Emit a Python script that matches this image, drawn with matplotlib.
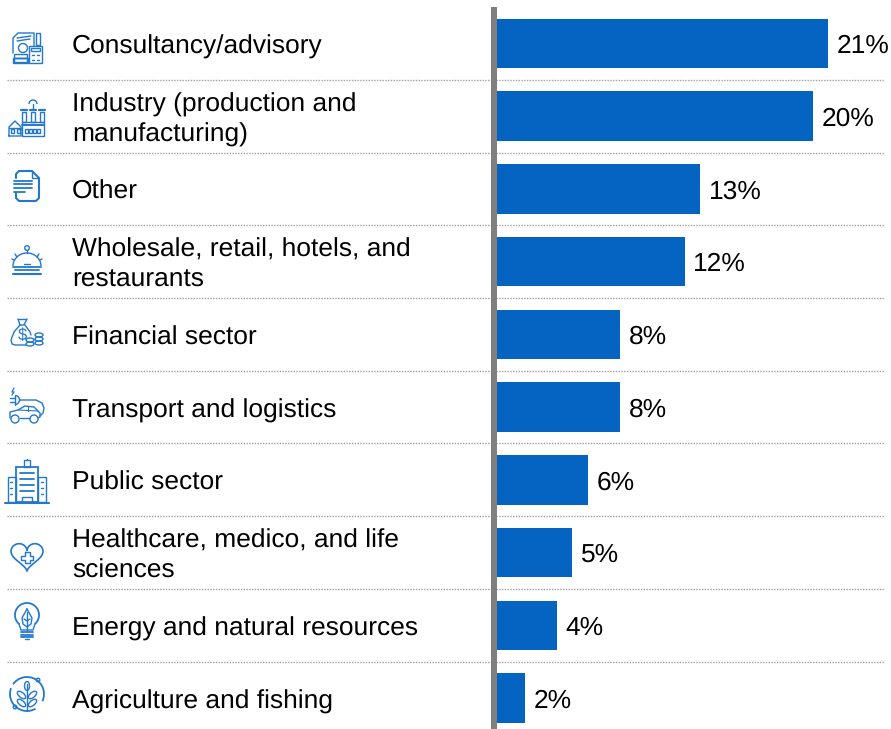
import numpy as np
import matplotlib
matplotlib.use("Agg")
import matplotlib.pyplot as plt
from matplotlib.patches import Circle, Rectangle, Arc, Ellipse

plt.rcParams["font.family"] = ["Liberation Sans", "DejaVu Sans"]
plt.rcParams["text.hinting"] = "no_hinting"
plt.rcParams["text.hinting_factor"] = 8

categories = [
    "Consultancy/advisory",
    "Industry (production and\nmanufacturing)",
    "Other",
    "Wholesale, retail, hotels, and\nrestaurants",
    "Financial sector",
    "Transport and logistics",
    "Public sector",
    "Healthcare, medico, and life\nsciences",
    "Energy and natural resources",
    "Agriculture and fishing",
]
values = [21.0, 20.0, 12.9, 11.9, 7.8, 7.8, 5.8, 4.8, 3.8, 1.8]
value_labels = ["21%", "20%", "13%", "12%", "8%", "8%", "6%", "5%", "4%", "2%"]

W, H = 891, 729
BLUE = "#0563c1"
ICON = "#2378cc"
GREY = "#7f7f7f"
TXT = "#000000"
X0 = 496.5
PX_PER_PCT = 15.8
ROW0 = 43.5
ROW_H = 72.72
FS = 19.0

fig = plt.figure(figsize=(W / 100, H / 100), dpi=100)

# bars
ax = fig.add_axes([X0 / W, 0, 1 - X0 / W, 1])
ax.set_xlim(0, (W - X0) / PX_PER_PCT)
ax.set_ylim((H - ROW0) / ROW_H, -ROW0 / ROW_H)
ax.axis("off")
ypos = np.arange(len(values))
ax.barh(ypos, values, height=0.68, color=BLUE, edgecolor="none")
for y, v, lab in zip(ypos, values, value_labels):
    ax.text(v + 0.55, y + 0.04, lab, va="center", ha="left", fontsize=FS, color=TXT)

# pixel overlay for labels, rules and icons
px = fig.add_axes([0, 0, 1, 1], facecolor="none")
px.set_xlim(0, W)
px.set_ylim(H, 0)
px.axis("off")

for i, c in enumerate(categories):
    px.text(72, ROW0 + ROW_H * i + 3.5, c, va="center", ha="left", fontsize=FS,
            color=TXT, linespacing=1.33)
    if i < len(categories) - 1:
        px.plot([7, 884], [ROW0 + ROW_H * (i + 0.5)] * 2, color="#a0a0a0", lw=1,
                dashes=(1, 1), zorder=1)
px.add_patch(Rectangle((491, 7), 5.5, H - 7, fc=GREY, ec="none", zorder=3))


def seg(*pts, lw=1.0):
    xs, ys = zip(*pts)
    px.plot(xs, ys, color=ICON, lw=lw, solid_capstyle="round", solid_joinstyle="round")


def box(x, y, w, h, lw=1.0):
    px.add_patch(Rectangle((x, y), w, h, fc="none", ec=ICON, lw=lw))


def ring(x, y, r, lw=1.0):
    px.add_patch(Circle((x, y), r, fc="none", ec=ICON, lw=lw))


def oval(x, y, w, h, lw=1.0, angle=0):
    px.add_patch(Ellipse((x, y), w, h, angle=angle, fc="none", ec=ICON, lw=lw))


def arc(x, y, w, h, a, b, lw=1.0):
    px.add_patch(Arc((x, y), w, h, theta1=a, theta2=b, ec=ICON, lw=lw))


# consultancy
seg((13, 53), (13, 38), (18, 33), (34, 33), (34, 46))
seg((17, 38), (31, 36))
seg((17, 41), (30, 39))
ring(23, 48, 4.5)
for yy in (54, 58):
    box(14, yy, 13, 4)
box(12.5, 58, 15, 5)
box(29, 46, 13, 17)
box(31, 48, 9, 3)
for a in (33, 38):
    for b in (55, 60):
        seg((a - 1, b), (a + 1, b))
box(36, 33, 3.5, 12)

# factory
box(21.5, 122, 22.5, 14)
seg((9, 136), (9, 127), (15, 121), (21, 127), (21, 136), (9, 136))
seg((9, 128), (21, 128))
seg((22, 125), (44, 125), lw=1.4)
for a in (12, 18, 26, 30, 34, 38):
    box(a - 1, 129, 2.5, 3.5)
for a in (24, 33, 42):
    box(a - 2, 112, 4, 10)
    seg((a - 3, 110), (a + 3, 110), lw=1.6)
arc(33, 104, 8, 8, 180, 360)
seg((33, 104), (33, 110))

# other (document)
seg((16, 178), (16, 174), (19, 171), (32, 171), (39, 178), (39, 198), (36, 201), (19, 201),
    (16, 198), (16, 193), lw=1.5)
seg((32, 171), (32, 178), (39, 178), lw=1.0)
for yy, xe in zip((181, 184, 188, 192), (32, 32, 32, 25)):
    seg((14, yy), (xe, yy), lw=1.3)

# bell
arc(27, 266, 28, 26, 180, 360)
ring(27, 248, 2.3)
seg((27, 250), (27, 253))
seg((13, 267), (41, 267), lw=1.3)
seg((15, 270), (39, 270), lw=1.3)
seg((13, 274), (41, 274), lw=1.5)
seg((24, 264), (30, 264))
seg((15, 254), (17, 257))
seg((39, 254), (37, 257))
seg((12, 259), (14, 260))
seg((42, 259), (40, 260))

# money bag
seg((18, 319), (26, 319))
seg((18, 319), (20, 325), (24, 325), (27, 319))
seg((20, 325), (14, 332), (11, 340), (12, 344), (15, 345), (26, 345))
seg((25, 325), (30, 332), (31, 335))
px.text(22.5, 335, "$", color=ICON, fontsize=12, ha="center", va="center")
for yy in (339, 343):
    oval(30, yy + 1, 8, 4)
for yy in (334, 338, 342):
    oval(39, yy + 1, 8, 4)

# car and plug
seg((10, 418), (10, 412), (18, 410), (25, 406), (34, 407), (40, 413), (40, 417), (38, 418))
seg((20, 418), (29, 418))
ring(15, 419, 4)
ring(34, 419, 4)
seg((18, 410), (38, 411), lw=0.8)
seg((28, 406), (28, 411), lw=0.8)
arc(15, 400, 9, 9, 270, 90)
seg((15, 395.5), (15, 404.5))
seg((10, 398), (15, 398))
seg((10, 402), (15, 402))
seg((19.5, 400), (36, 400), (42, 403), (44, 408), (43, 413), (40, 416))
seg((14, 388), (12, 392), (14, 392), (12, 395), lw=0.9)

# public sector
box(16, 467, 22, 35, lw=1.3)
box(8, 477, 8, 25)
box(38, 477, 8, 25)
seg((5, 503), (49, 503), lw=1.5)
box(24, 460, 6, 7)
seg((27, 459), (27, 460))
for yy in (473, 479, 485, 491):
    seg((20, yy), (34, yy), lw=1.3)
seg((22, 503), (22, 497), (32, 497), (32, 503))
for a in (11, 42):
    for yy in (482, 488, 494):
        seg((a - 1, yy), (a + 1, yy))

# heart
t = np.linspace(0, 2 * np.pi, 200)
hx = 16 * np.sin(t) ** 3
hy = 13 * np.cos(t) - 5 * np.cos(2 * t) - 2 * np.cos(3 * t) - np.cos(4 * t)
px.plot(27 + hx, 555 - hy * 0.95, color=ICON, lw=1.2)
seg((24.5, 552), (29.5, 552), (29.5, 555.5), (33, 555.5), (33, 559.5), (29.5, 559.5),
    (29.5, 563), (24.5, 563), (24.5, 559.5), (21, 559.5), (21, 555.5), (24.5, 555.5),
    (24.5, 552))

# energy
arc(27, 615, 24, 24, 130, 50 + 360, lw=1.3)
seg((19, 624), (21, 630), (33, 630), (35, 624))
for yy in (632, 635, 637):
    seg((21, yy), (33, yy), lw=1.3)
seg((25, 639), (29, 639))
seg((27, 609), (22, 618), (23, 624), (27, 627), (31, 624), (32, 618), (27, 609))
seg((27, 612), (27, 630))
seg((24, 619), (27, 621), (30, 619))

# agriculture
arc(27, 694, 34, 34, 60, 200, lw=1.3)
arc(27, 694, 34, 34, 215, 385, lw=1.3)
ring(38, 680, 1.8)
ring(15, 707, 1.8)
seg((27, 684), (27, 711))
oval(27, 686, 5, 9)
for yy in (695, 703):
    oval(21.5, yy, 5, 10, angle=-50)
    oval(32.5, yy, 5, 10, angle=50)

fig.savefig("out.png", dpi=100, facecolor="white")
